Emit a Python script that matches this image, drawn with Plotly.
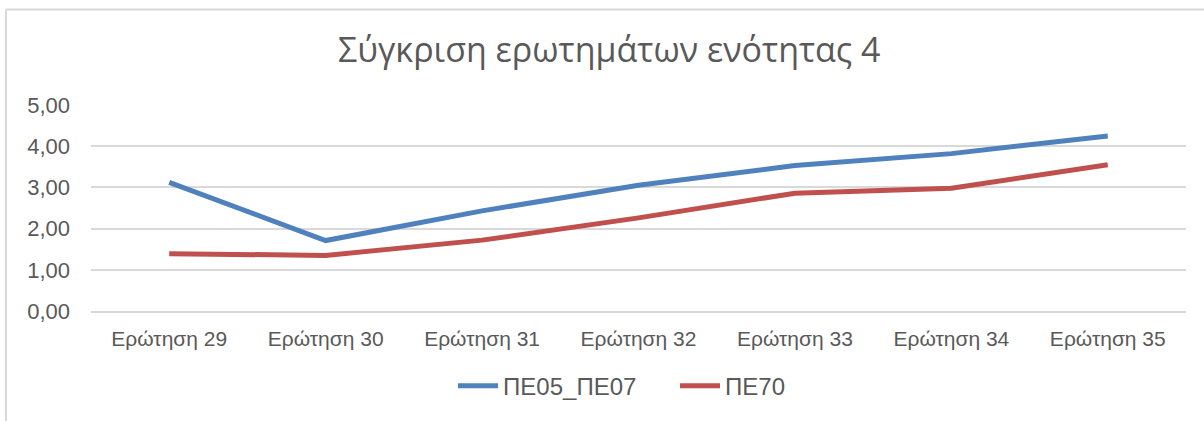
import plotly.graph_objects as go

categories = ["Ερώτηση 29", "Ερώτηση 30", "Ερώτηση 31", "Ερώτηση 32",
              "Ερώτηση 33", "Ερώτηση 34", "Ερώτηση 35"]
pe05_pe07 = [3.12, 1.71, 2.43, 3.05, 3.53, 3.82, 4.25]
pe70 = [1.39, 1.35, 1.72, 2.26, 2.86, 2.98, 3.55]
y_ticks = [0, 1, 2, 3, 4, 5]
y_tick_labels = ["0,00", "1,00", "2,00", "3,00", "4,00", "5,00"]

TXT = "#595959"
GRID = "#d9d9d9"

fig = go.Figure()
fig.add_trace(go.Scatter(x=categories, y=pe05_pe07, mode="lines", name="ΠΕ05_ΠΕ07",
                         line=dict(color="#4F81BD", width=5)))
fig.add_trace(go.Scatter(x=categories, y=pe70, mode="lines", name="ΠΕ70",
                         line=dict(color="#C0504D", width=5)))

fig.update_layout(
    width=1204, height=421,
    paper_bgcolor="white", plot_bgcolor="white",
    margin=dict(l=91, r=18, t=105, b=108),
    title=dict(text="Σύγκριση ερωτημάτων ενότητας 4",
               font=dict(family="Open Sans", size=34, color=TXT),
               xref="container", x=0.506, xanchor="center",
               yref="container", y=1 - 50 / 421, yanchor="middle"),
    font=dict(family="Liberation Sans, Arial", color=TXT),
    showlegend=True,
    legend=dict(orientation="h", x=(453 - 91) / 1095, xanchor="left",
                y=(313 - 389) / 208, yanchor="middle", entrywidth=167,
                font=dict(size=24, color=TXT), itemwidth=40, bgcolor="rgba(0,0,0,0)"),
    xaxis=dict(showgrid=False, showline=True, linecolor=GRID, linewidth=1.5,
               range=[-0.5, len(categories) - 0.5],
               ticks="", tickfont=dict(size=21, color=TXT), ticklabelstandoff=8,
               fixedrange=True),
    yaxis=dict(range=[0, 5], tickvals=y_ticks, ticktext=y_tick_labels,
               showgrid=True, gridcolor=GRID, gridwidth=1.5, zeroline=False,
               showline=False, ticks="", tickfont=dict(size=22, color=TXT),
               ticklabelstandoff=20, fixedrange=True),
    shapes=[
        dict(type="line", xref="paper", yref="paper",
             x0=(6 - 91) / 1095, x1=(1210 - 91) / 1095,
             y0=1 + (105 - 8.5) / 208, y1=1 + (105 - 8.5) / 208,
             line=dict(color=GRID, width=2)),
        dict(type="line", xref="paper", yref="paper",
             x0=(6 - 91) / 1095, x1=(6 - 91) / 1095,
             y0=1 + (105 - 8.5) / 208, y1=(313 - 430) / 208,
             line=dict(color=GRID, width=2)),
    ],
)

fig.write_html("out.html", config={"displayModeBar": False},
               post_script="document.body.style.margin='0';document.body.style.overflow='hidden';")
